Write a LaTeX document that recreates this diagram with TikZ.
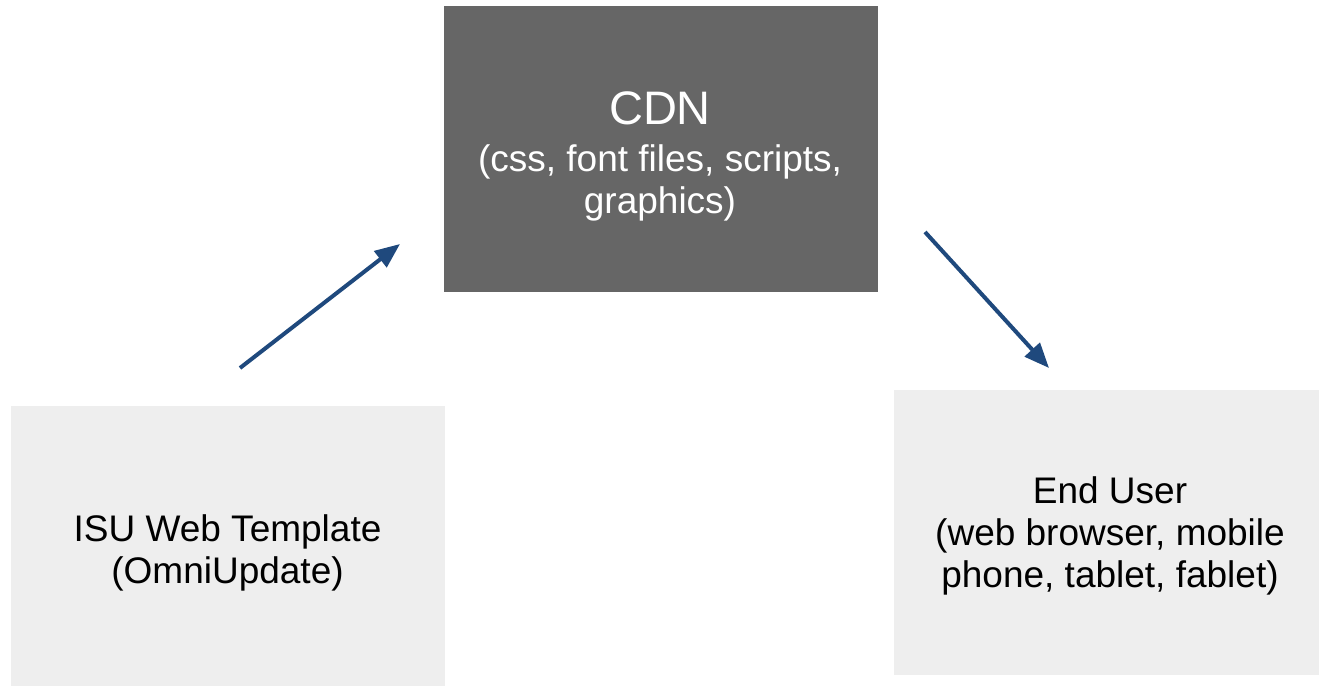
\documentclass[tikz,border=0pt]{standalone}
\usepackage{fontspec}
\setmainfont{Liberation Sans}
\usetikzlibrary{arrows.meta}
\definecolor{cdngray}{HTML}{666666}
\definecolor{lightbox}{HTML}{EEEEEE}
\definecolor{arrowblue}{HTML}{1F497D}
\tikzset{
  darkbox/.style={fill=cdngray, draw=none, inner sep=0pt},
  lightbx/.style={fill=lightbox, draw=none, inner sep=0pt},
  boxtext/.style={align=center, inner sep=0pt, font=\fontsize{37}{42}\selectfont},
  flow/.style={draw=arrowblue, line width=4pt, -{Triangle[length=25pt,width=20pt]}}
}
\begin{document}
\begin{tikzpicture}[x=1pt,y=-1pt]
\useasboundingbox (0,0) rectangle (1319,687);
% boxes
\node[darkbox, minimum width=434pt, minimum height=286pt] (cdn) at (661,149) {};
\node[lightbx, minimum width=434pt, minimum height=280pt] (isu) at (228,546) {};
\node[lightbx, minimum width=425pt, minimum height=285pt] (user) at (1106.5,532.5) {};
% texts
\node[boxtext, text=white] (cdntext) at (660,156)
  {{\fontsize{47}{47}\selectfont CDN}\\[5pt](css, font files, scripts,\\graphics)};
\node[boxtext] (isutext) at (227.5,552.5) {ISU Web Template\\(OmniUpdate)};
\node[boxtext] (usertext) at (1110,536) {End User\\(web browser, mobile\\phone, tablet, fablet)};
% connector ends
\coordinate (a1s) at (240,368);
\coordinate (a1e) at (400,244);
\coordinate (a2s) at (925,232);
\coordinate (a2e) at (1049,368);
\draw[flow] (a1s) -- (a1e);
\draw[flow] (a2s) -- (a2e);
\end{tikzpicture}
\end{document}
